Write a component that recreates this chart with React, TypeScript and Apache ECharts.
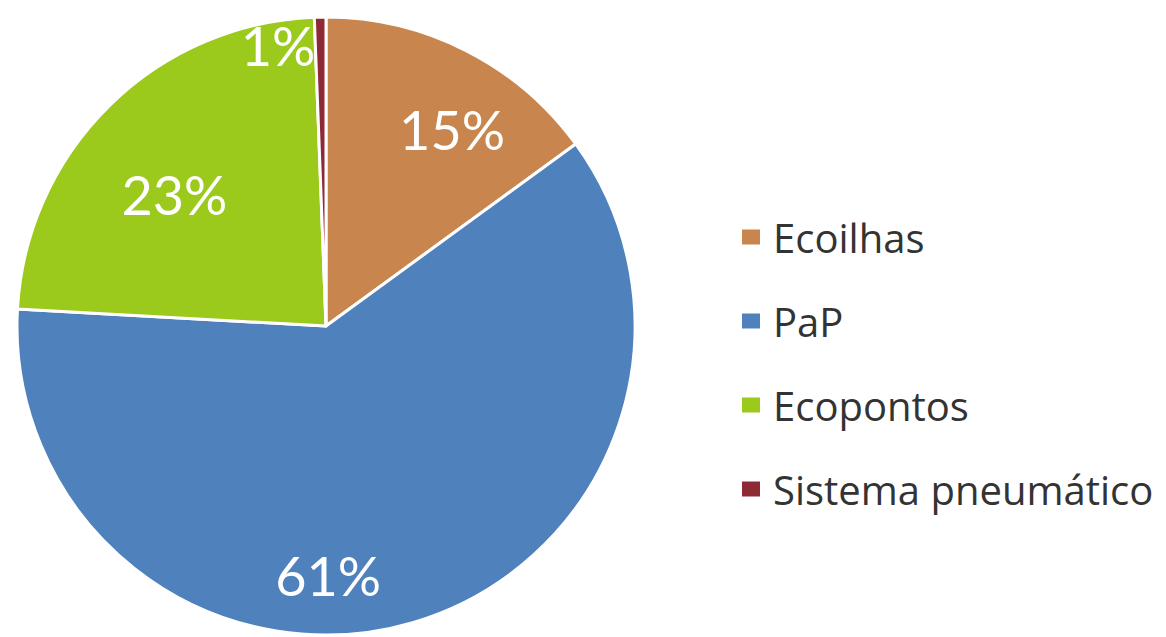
import React, { useEffect, useRef } from "react";
import * as echarts from "echarts";

const categories = ["Ecoilhas", "PaP", "Ecopontos", "Sistema pneumático"];
const values = [14.9, 60.6, 23.4, 0.6];
const colors = ["#C8864E", "#4F81BD", "#9BC91C", "#8E2A36"];

// label placement (style): angle clockwise from 12 o'clock in degrees, fraction of radius
const labelPolar = [
  [32.7, 0.755],
  [179.5, 0.806],
  [311, 0.65],
  [350.3, 0.92],
];

const CX = 326;
const CY = 326;
const R = 309;

export default function App() {
  const ref = useRef<HTMLDivElement>(null);
  useEffect(() => {
    if (!ref.current) return;
    const chart = echarts.init(ref.current, undefined, { renderer: "svg" });
    chart.setOption({
      animation: false,
      backgroundColor: "#ffffff",
      legend: {
        orient: "vertical",
        left: 740,
        top: 217,
        padding: 0,
        itemWidth: 20,
        itemHeight: 17,
        itemGap: 44,
        icon: "rect",
        data: categories,
        textStyle: {
          fontFamily: "Open Sans",
          fontSize: 40,
          lineHeight: 40,
          color: "#333333",
          padding: [0, 0, 0, 7],
        },
      },
      series: [
        {
          type: "pie",
          center: [CX, CY],
          radius: [0, R],
          startAngle: 90,
          clockwise: true,
          avoidLabelOverlap: false,
          itemStyle: { borderColor: "#ffffff", borderWidth: 3 },
          label: {
            show: true,
            position: "inside",
            formatter: (p: any) => Math.round(p.value) + "%",
            color: "#ffffff",
            fontFamily: "Lato",
            fontSize: 54,
          },
          labelLine: { show: false },
          labelLayout: (p: any) => {
            const [a, f] = labelPolar[p.dataIndex];
            const rad = (a * Math.PI) / 180;
            return {
              x: CX + Math.sin(rad) * R * f,
              y: CY - Math.cos(rad) * R * f,
              align: "center",
              verticalAlign: "middle",
            };
          },
          data: categories.map((name, i) => ({
            name,
            value: values[i],
            itemStyle: { color: colors[i] },
          })),
        },
      ],
    });
    return () => chart.dispose();
  }, []);
  return (
    <div
      ref={ref}
      style={{ position: "fixed", left: 0, top: 0, width: 1166, height: 637 }}
    />
  );
}
